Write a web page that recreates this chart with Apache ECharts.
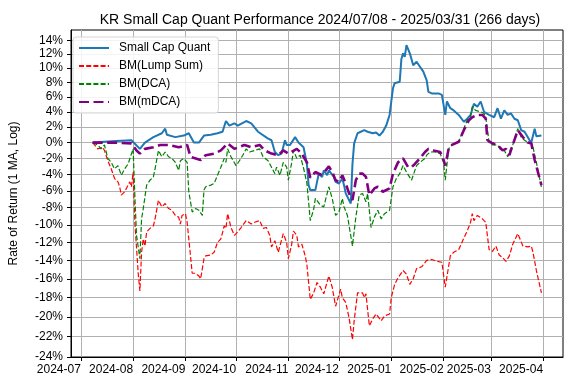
<!DOCTYPE html>
<html><head><meta charset="utf-8">
<script src="https://cdn.jsdelivr.net/npm/echarts@6/dist/echarts.min.js"></script>
<style>html,body{margin:0;padding:0;background:#fff}#c{width:572px;height:389px}</style>
</head><body><div id="c"></div>
<script>
// ---- data (percent returns) ----
const quantDates = ['2024-07-08','2024-07-15','2024-07-22','2024-07-31','2024-08-05','2024-08-08','2024-08-13','2024-08-18','2024-08-20','2024-08-21','2024-08-26','2024-08-31','2024-09-03','2024-09-06','2024-09-09','2024-09-12','2024-09-16','2024-09-20','2024-09-23','2024-09-25','2024-09-27','2024-09-30','2024-10-02','2024-10-07','2024-10-10','2024-10-14','2024-10-20','2024-10-22','2024-10-24','2024-10-26','2024-10-28','2024-10-30','2024-10-31','2024-11-02','2024-11-05','2024-11-07','2024-11-10','2024-11-12','2024-11-13','2024-11-14','2024-11-17','2024-11-19','2024-11-21','2024-11-22','2024-11-24','2024-11-25','2024-11-28','2024-11-29','2024-12-01','2024-12-03','2024-12-04','2024-12-05','2024-12-08','2024-12-09','2024-12-10','2024-12-12','2024-12-13','2024-12-16','2024-12-18','2024-12-19','2024-12-21','2024-12-23','2024-12-25','2024-12-27','2024-12-29','2024-12-31','2025-01-02','2025-01-03','2025-01-06','2025-01-07','2025-01-08','2025-01-09','2025-01-10','2025-01-12','2025-01-14','2025-01-16','2025-01-18','2025-01-20','2025-01-22','2025-01-23','2025-01-25','2025-01-29','2025-01-31','2025-02-02','2025-02-03','2025-02-05','2025-02-07','2025-02-10','2025-02-13','2025-02-15','2025-02-17','2025-02-19','2025-02-21','2025-02-23','2025-02-24','2025-02-25','2025-02-28','2025-03-03','2025-03-05','2025-03-07','2025-03-09','2025-03-11','2025-03-13','2025-03-15','2025-03-17','2025-03-19','2025-03-21','2025-03-24','2025-03-25','2025-03-27','2025-03-28','2025-03-31'];
const quantValues = [0,0.1,0.2,0.3,-0.8,0,0.7,1.2,1.8,1.0,0.7,0.9,1.2,0,0,0.9,1.0,1.2,1.4,2.8,2.2,2.5,2.2,2.8,2.5,1.4,0.5,0.3,-1.2,-1.6,-1.4,0.3,-0.3,-0.3,0.7,0,-0.6,-2.7,-5.3,-5.9,-5.9,-3.9,-4.3,-3.5,-4.1,-3.5,-4.3,-4.9,-5.1,-4.5,-5.3,-6.3,-7.5,-2.7,-0.1,1.2,1.4,1.6,1.4,1.6,1.2,1.3,0.9,1.4,2.2,3.6,7.2,7.9,8.1,11.3,12.1,11.6,13.3,12.1,10.4,10.9,10.2,9.5,8.3,6.7,6.5,6.5,6.3,3.6,5.4,4.5,4.2,3.6,2.7,3.1,3.6,5.1,4.7,5.4,5.2,4.0,3.6,3.3,4.5,3.1,4.2,3.6,3.8,3.1,2.9,1.6,1.4,0.3,0,1.8,0.8,0.9];

const lumpDates = ['2024-07-08','2024-07-11','2024-07-14','2024-07-15','2024-07-17','2024-07-19','2024-07-21','2024-07-23','2024-07-24','2024-07-25','2024-07-27','2024-07-29','2024-07-30','2024-07-31','2024-08-01','2024-08-02','2024-08-04','2024-08-05','2024-08-06','2024-08-07','2024-08-08','2024-08-09','2024-08-11','2024-08-13','2024-08-14','2024-08-16','2024-08-18','2024-08-20','2024-08-22','2024-08-24','2024-08-26','2024-08-28','2024-08-29','2024-08-30','2024-09-01','2024-09-02','2024-09-04','2024-09-05','2024-09-07','2024-09-09','2024-09-10','2024-09-12','2024-09-13','2024-09-16','2024-09-18','2024-09-20','2024-09-22','2024-09-24','2024-09-25','2024-09-26','2024-09-28','2024-09-30','2024-10-02','2024-10-04','2024-10-07','2024-10-10','2024-10-12','2024-10-15','2024-10-17','2024-10-19','2024-10-21','2024-10-22','2024-10-24','2024-10-26','2024-10-29','2024-10-31','2024-11-01','2024-11-03','2024-11-04','2024-11-06','2024-11-07','2024-11-09','2024-11-11','2024-11-12','2024-11-14','2024-11-16','2024-11-18','2024-11-20','2024-11-22','2024-11-25','2024-11-27','2024-11-29','2024-11-30','2024-12-02','2024-12-03','2024-12-05','2024-12-07','2024-12-09','2024-12-10','2024-12-12','2024-12-13','2024-12-15','2024-12-16','2024-12-17','2024-12-19','2024-12-21','2024-12-23','2024-12-26','2024-12-28','2024-12-31','2025-01-01','2025-01-03','2025-01-05','2025-01-08','2025-01-10','2025-01-12','2025-01-14','2025-01-16','2025-01-19','2025-01-22','2025-01-23','2025-01-25','2025-01-28','2025-01-31','2025-02-02','2025-02-05','2025-02-07','2025-02-10','2025-02-13','2025-02-15','2025-02-17','2025-02-18','2025-02-19','2025-02-21','2025-02-24','2025-02-26','2025-02-28','2025-03-02','2025-03-04','2025-03-06','2025-03-08','2025-03-10','2025-03-12','2025-03-14','2025-03-17','2025-03-20','2025-03-23','2025-03-25','2025-03-26','2025-03-28','2025-03-31'];
const lumpValues = [0,-0.8,-0.6,-1.0,-2.3,-3.3,-4.5,-4.9,-5.5,-6.5,-6.1,-5.3,-4.9,-5.5,-3.7,-9.7,-15.4,-17.3,-13.1,-11.6,-12.4,-10.8,-10.4,-10.1,-9.3,-7.1,-7.9,-7.5,-8.1,-8.3,-8.9,-9.1,-9.9,-8.9,-8.7,-9.7,-13.5,-15.4,-15.4,-15.7,-16.0,-13.8,-13.5,-13.4,-13.1,-12.0,-11.6,-10.1,-10.4,-8.7,-10.3,-11.2,-10.8,-10.3,-9.5,-9.9,-9.7,-9.5,-10.4,-10.3,-11.2,-12.5,-11.8,-13.1,-11.0,-12.0,-13.8,-12.2,-10.7,-11.2,-12.5,-12.2,-13.5,-14.5,-18.2,-17.5,-16.4,-16.9,-17.6,-15.7,-16.9,-18.9,-18.7,-17.1,-18.0,-18.5,-20.1,-22.3,-20.4,-17.5,-17.3,-17.5,-18.0,-17.6,-20.9,-20.2,-19.7,-20.4,-19.9,-19.7,-18.0,-16.6,-15.9,-15.1,-15.5,-16.6,-16.0,-14.9,-14.7,-14.0,-14.2,-13.9,-14.1,-14.2,-16.9,-13.5,-13.1,-12.8,-11.5,-10.7,-9.7,-8.7,-9.5,-8.9,-9.3,-9.7,-12.8,-13.0,-12.4,-13.4,-13.7,-14.1,-13.5,-12.2,-11.0,-12.4,-12.5,-12.4,-13.1,-15.1,-17.5];

const dcaDates = ['2024-07-08','2024-07-11','2024-07-13','2024-07-15','2024-07-17','2024-07-19','2024-07-21','2024-07-23','2024-07-25','2024-07-27','2024-07-29','2024-07-30','2024-08-01','2024-08-02','2024-08-03','2024-08-05','2024-08-06','2024-08-07','2024-08-09','2024-08-11','2024-08-13','2024-08-14','2024-08-16','2024-08-18','2024-08-20','2024-08-22','2024-08-24','2024-08-26','2024-08-28','2024-08-29','2024-08-31','2024-09-02','2024-09-03','2024-09-05','2024-09-07','2024-09-09','2024-09-11','2024-09-12','2024-09-13','2024-09-16','2024-09-18','2024-09-20','2024-09-22','2024-09-24','2024-09-25','2024-09-26','2024-09-28','2024-10-01','2024-10-03','2024-10-05','2024-10-07','2024-10-09','2024-10-12','2024-10-15','2024-10-17','2024-10-20','2024-10-22','2024-10-24','2024-10-25','2024-10-27','2024-10-29','2024-10-31','2024-11-01','2024-11-03','2024-11-04','2024-11-06','2024-11-08','2024-11-10','2024-11-12','2024-11-14','2024-11-16','2024-11-17','2024-11-20','2024-11-22','2024-11-25','2024-11-27','2024-11-29','2024-12-01','2024-12-03','2024-12-04','2024-12-06','2024-12-09','2024-12-11','2024-12-13','2024-12-15','2024-12-17','2024-12-18','2024-12-20','2024-12-22','2024-12-24','2024-12-26','2024-12-28','2024-12-31','2025-01-02','2025-01-04','2025-01-06','2025-01-08','2025-01-10','2025-01-13','2025-01-15','2025-01-16','2025-01-18','2025-01-21','2025-01-22','2025-01-24','2025-01-27','2025-01-30','2025-02-01','2025-02-02','2025-02-04','2025-02-06','2025-02-10','2025-02-13','2025-02-15','2025-02-17','2025-02-18','2025-02-20','2025-02-23','2025-02-25','2025-02-26','2025-02-28','2025-03-02','2025-03-05','2025-03-07','2025-03-09','2025-03-11','2025-03-12','2025-03-14','2025-03-17','2025-03-19','2025-03-21','2025-03-23','2025-03-25','2025-03-26','2025-03-28','2025-03-31'];
const dcaValues = [0,-0.3,-0.8,-0.3,-2.0,-2.5,-3.3,-2.9,-4.1,-3.3,-2.7,-2.5,-0.8,-6.5,-11.2,-13.8,-9.3,-8.1,-5.3,-4.7,-4.3,-3.3,-1.0,-1.8,-1.2,-1.8,-2.0,-2.5,-3.5,-2.3,-2.0,-2.5,-6.1,-8.5,-8.1,-8.3,-8.9,-5.9,-5.5,-5.3,-5.1,-4.1,-3.1,-2.0,-2.5,-0.8,-1.8,-2.9,-2.3,-1.6,-0.8,-1.2,-1.0,-0.8,-1.8,-2.3,-3.1,-3.9,-3.1,-4.1,-2.5,-3.1,-4.7,-2.5,-1.0,-2.0,-1.6,-3.2,-5.1,-9.5,-8.2,-6.9,-7.7,-7.9,-5.5,-6.9,-8.9,-8.5,-6.9,-7.9,-8.9,-12.4,-9.1,-6.5,-6.3,-7.3,-6.3,-10.3,-9.1,-8.3,-9.3,-8.7,-8.3,-5.5,-4.5,-3.9,-2.9,-3.7,-4.7,-3.5,-2.9,-2.5,-2.0,-1.6,-1.2,-1.2,-1.4,-2.5,-4.7,-0.8,-0.3,0.1,1.8,2.9,3.4,4.7,4.2,4.0,3.8,3.3,0.0,-0.3,-0.3,-1.0,-1.0,-1.8,-1.2,-0.3,1.8,0.7,0.3,0.0,0.0,-0.6,-2.5,-5.5];

const mdcaDates = ['2024-07-08','2024-07-19','2024-07-31','2024-08-03','2024-08-05','2024-08-08','2024-08-13','2024-08-17','2024-08-22','2024-08-28','2024-09-02','2024-09-04','2024-09-10','2024-09-13','2024-09-18','2024-09-22','2024-09-26','2024-09-30','2024-10-06','2024-10-10','2024-10-15','2024-10-18','2024-10-22','2024-10-26','2024-10-29','2024-11-01','2024-11-06','2024-11-09','2024-11-10','2024-11-12','2024-11-14','2024-11-17','2024-11-20','2024-11-22','2024-11-25','2024-11-27','2024-11-29','2024-12-01','2024-12-03','2024-12-05','2024-12-07','2024-12-09','2024-12-11','2024-12-13','2024-12-15','2024-12-17','2024-12-19','2024-12-22','2024-12-24','2024-12-27','2024-12-31','2025-01-02','2025-01-05','2025-01-08','2025-01-11','2025-01-13','2025-01-15','2025-01-18','2025-01-21','2025-01-23','2025-01-26','2025-01-30','2025-02-01','2025-02-02','2025-02-04','2025-02-06','2025-02-10','2025-02-13','2025-02-16','2025-02-18','2025-02-21','2025-02-24','2025-02-26','2025-02-27','2025-03-02','2025-03-05','2025-03-08','2025-03-10','2025-03-12','2025-03-14','2025-03-17','2025-03-20','2025-03-23','2025-03-25','2025-03-27','2025-03-31'];
const mdcaValues = [0,0,-0.1,-1.0,-1.4,-0.8,-0.6,-0.3,-0.3,-0.6,-0.3,-1.8,-2.2,-1.6,-1.4,-1.0,-0.1,-0.8,-0.3,-0.6,-0.3,-1.0,-1.4,-1.6,-1.0,-1.4,-0.8,-1.4,-1.8,-2.5,-4.4,-3.7,-4.0,-3.8,-3.0,-3.7,-4.7,-4.9,-4.1,-5.1,-6.3,-7.1,-4.7,-3.9,-3.9,-4.3,-6.5,-5.7,-5.5,-6.1,-5.7,-3.9,-2.5,-2.0,-3.1,-3.1,-2.7,-2.0,-1.2,-0.8,-1.0,-1.2,-2.2,-2.9,-0.8,-0.3,0.1,1.6,2.9,3.3,3.6,3.6,3.1,0.3,-0.1,-0.3,-1.0,-0.8,-1.6,-0.3,1.6,0.7,0.0,-0.1,-2.2,-5.3];

const seriesNames = ['Small Cap Quant','BM(Lump Sum)','BM(DCA)','BM(mDCA)'];
const yTickPercents = [-24,-22,-20,-18,-16,-14,-12,-10,-8,-6,-4,-2,0,2,4,6,8,10,12,14];
const xTickMonths = ['2024-07-01','2024-08-01','2024-09-01','2024-10-01','2024-11-01','2024-12-01','2025-01-01','2025-02-01','2025-03-01','2025-04-01'];

// ---- helpers ----
const toLog = p => Math.log(1 + p / 100);
const parseDate = s => { const [y,m,d] = s.split('-').map(Number); return new Date(y, m - 1, d).getTime(); };
const pair = (ds, vs) => ds.map((d, i) => [parseDate(d), toLog(vs[i])]);
const pad = n => (n < 10 ? '0' : '') + n;

const FONT = 'Liberation Sans';
const chart = echarts.init(document.getElementById('c'), null, {renderer: 'canvas'});
const xTicks = xTickMonths.map(parseDate);
const yTicks = yTickPercents.map(toLog);
const gridColor = '#b0b0b0';

chart.setOption({
  animation: false,
  backgroundColor: '#fff',
  title: {
    text: 'KR Small Cap Quant Performance 2024/07/08 - 2025/03/31 (266 days)',
    left: 315, top: 8, textAlign: 'center',
    textStyle: {fontFamily: FONT, fontSize: 14, fontWeight: 'normal', color: '#000'}
  },
  grid: {left: 67, right: 9, top: 30, bottom: 32, show: true, borderColor: '#000', borderWidth: 1, backgroundColor: 'transparent'},
  legend: {
    orient: 'vertical', left: 73, top: 37,
    data: seriesNames,
    itemWidth: 30, itemHeight: 14, itemGap: 6,
    padding: [5, 8, 5, 5],
    itemStyle: {opacity: 0},
    backgroundColor: 'rgba(255,255,255,0.85)', borderColor: '#d5d5d5', borderWidth: 1, borderRadius: 3,
    textStyle: {fontFamily: FONT, fontSize: 12, color: '#000', padding: [0, 0, 0, 5]}
  },
  xAxis: {
    type: 'value',
    min: new Date(2024, 5, 25, 4).getTime(),
    max: new Date(2025, 3, 12, 19).getTime(),
    axisLine: {show: true, onZero: false, lineStyle: {color: '#000'}},
    axisTick: {show: true, customValues: xTicks, length: 4, inside: false, lineStyle: {color: '#000'}},
    axisLabel: {
      customValues: xTicks, margin: 7, align: 'right',
      fontFamily: FONT, fontSize: 12, color: '#000',
      formatter: v => { const d = new Date(v); return d.getFullYear() + '-' + pad(d.getMonth() + 1); }
    },
    splitLine: {show: true, customValues: xTicks, lineStyle: {color: gridColor, width: 1}}
  },
  yAxis: {
    type: 'value',
    min: toLog(-24), max: 0.1441,
    name: 'Rate of Return (1 MA, Log)', nameLocation: 'middle', nameGap: 51, nameRotate: 90,
    nameTextStyle: {fontFamily: FONT, fontSize: 12, color: '#000'},
    axisLine: {show: true, lineStyle: {color: '#000'}},
    axisTick: {show: true, customValues: yTicks, length: 4, lineStyle: {color: '#000'}},
    axisLabel: {
      customValues: yTicks, margin: 8,
      fontFamily: FONT, fontSize: 12, color: '#000',
      formatter: v => Math.round((Math.exp(v) - 1) * 100) + '%'
    },
    splitLine: {show: true, customValues: yTicks, lineStyle: {color: gridColor, width: 1}}
  },
  series: [
    {name: seriesNames[0], type: 'line', data: pair(quantDates, quantValues), symbol: 'none', color: '#1f77b4', lineStyle: {width: 2, color: '#1f77b4'}, z: 2},
    {name: seriesNames[1], type: 'line', data: pair(lumpDates, lumpValues), symbol: 'none', color: '#ff0000', lineStyle: {width: 1.2, color: '#ff0000', type: [5, 2.2]}, z: 3},
    {name: seriesNames[2], type: 'line', data: pair(dcaDates, dcaValues), symbol: 'none', color: '#008000', lineStyle: {width: 1.2, color: '#008000', type: [5, 2.2]}, z: 4},
    {name: seriesNames[3], type: 'line', data: pair(mdcaDates, mdcaValues), symbol: 'none', color: '#800080', lineStyle: {width: 2.6, color: '#800080', type: [10, 4.5]}, z: 5}
  ]
});
</script></body></html>
